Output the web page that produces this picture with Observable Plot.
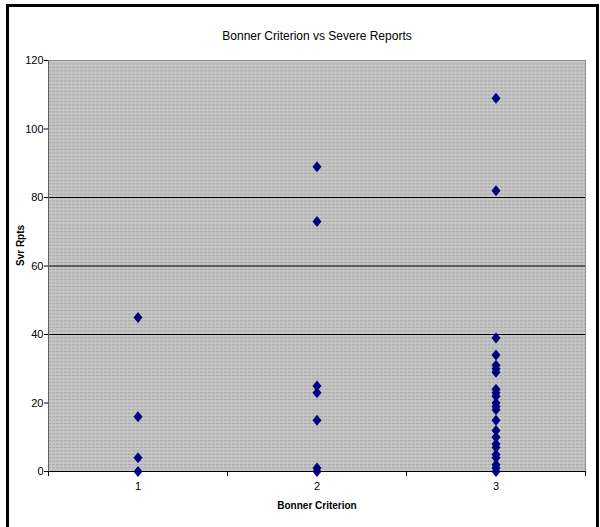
<!DOCTYPE html>
<html><head><meta charset="utf-8">
<script src="https://cdn.jsdelivr.net/npm/d3@7"></script>
<script src="https://cdn.jsdelivr.net/npm/@observablehq/plot@0.6"></script>
<style>body{margin:0;background:#fff;font-family:"Liberation Sans",Arial,sans-serif}</style>
</head><body><div id="chart"></div>
<script>
const categories = [1, 2, 3];
const criterion1 = [45, 16, 4, 0];
const criterion2 = [89, 73, 25, 23, 15, 1, 0];
const criterion3 = [109, 82, 39, 34, 31, 30, 29, 24, 23, 22, 20, 19, 18, 15, 12, 10, 8, 7, 5, 4, 2, 1, 0];
const yTicks = [0, 20, 40, 60, 80, 100, 120];
const majorGrid = [40, 60, 80];
const xTickPositions = [0.5, 1.5, 2.5, 3.5];
const minorGrid = d3.range(1, 120);

const rows = [
  ...criterion1.map(v => ({c: 1, v})),
  ...criterion2.map(v => ({c: 2, v})),
  ...criterion3.map(v => ({c: 3, v}))
];

const diamond = {
  draw(ctx) {
    ctx.moveTo(0, -5.5); ctx.lineTo(4.5, 0); ctx.lineTo(0, 5.5); ctx.lineTo(-4.5, 0); ctx.closePath();
  }
};

const chart = Plot.plot({
  width: 600, height: 527,
  marginLeft: 48, marginRight: 15, marginTop: 60, marginBottom: 56,
  style: {fontFamily: "'Liberation Sans', Arial, sans-serif", background: "#fff", color: "#000"},
  x: {domain: [0.5, 3.5]},
  y: {domain: [0, 120]},
  marks: [
    Plot.frame({fill: "#c4c4c4", stroke: "#909090"}),
    Plot.ruleY(minorGrid, {stroke: "#a8a8a8", strokeDasharray: "3,1"}),
    Plot.ruleY(majorGrid, {stroke: "#000", strokeWidth: 1}),
    Plot.ruleX([0.5], {stroke: "#606060"}),
    Plot.ruleY([0], {stroke: "#000"}),
    Plot.axisY({ticks: yTicks, tickSize: 4, tickPadding: 1, fontSize: 11, label: null}),
    Plot.axisX({ticks: xTickPositions, tickFormat: () => "", tickSize: 5, label: null}),
    Plot.text(categories, {x: d => d, frameAnchor: "bottom", dy: 18, fontSize: 11, text: d => String(d)}),
    Plot.text(["Bonner Criterion"], {frameAnchor: "bottom", dy: 37, fontSize: 10, fontWeight: "bold"}),
    Plot.text(["Svr Rpts"], {frameAnchor: "left", dx: -28, rotate: -90, fontSize: 10, fontWeight: "bold"}),
    Plot.text(["Bonner Criterion vs Severe Reports"], {frameAnchor: "top", dy: -29, fontSize: 12}),
    Plot.dot(rows, {x: "c", y: "v", symbol: diamond, fill: "#000080", stroke: "none"})
  ]
});

const svg = d3.select(chart);
svg.append("path")
  .attr("d", "M7.5,527 V5.5 H597.5 V527")
  .attr("fill", "none").attr("stroke", "#000").attr("stroke-width", 3);

document.getElementById("chart").appendChild(chart);
</script>
</body></html>
